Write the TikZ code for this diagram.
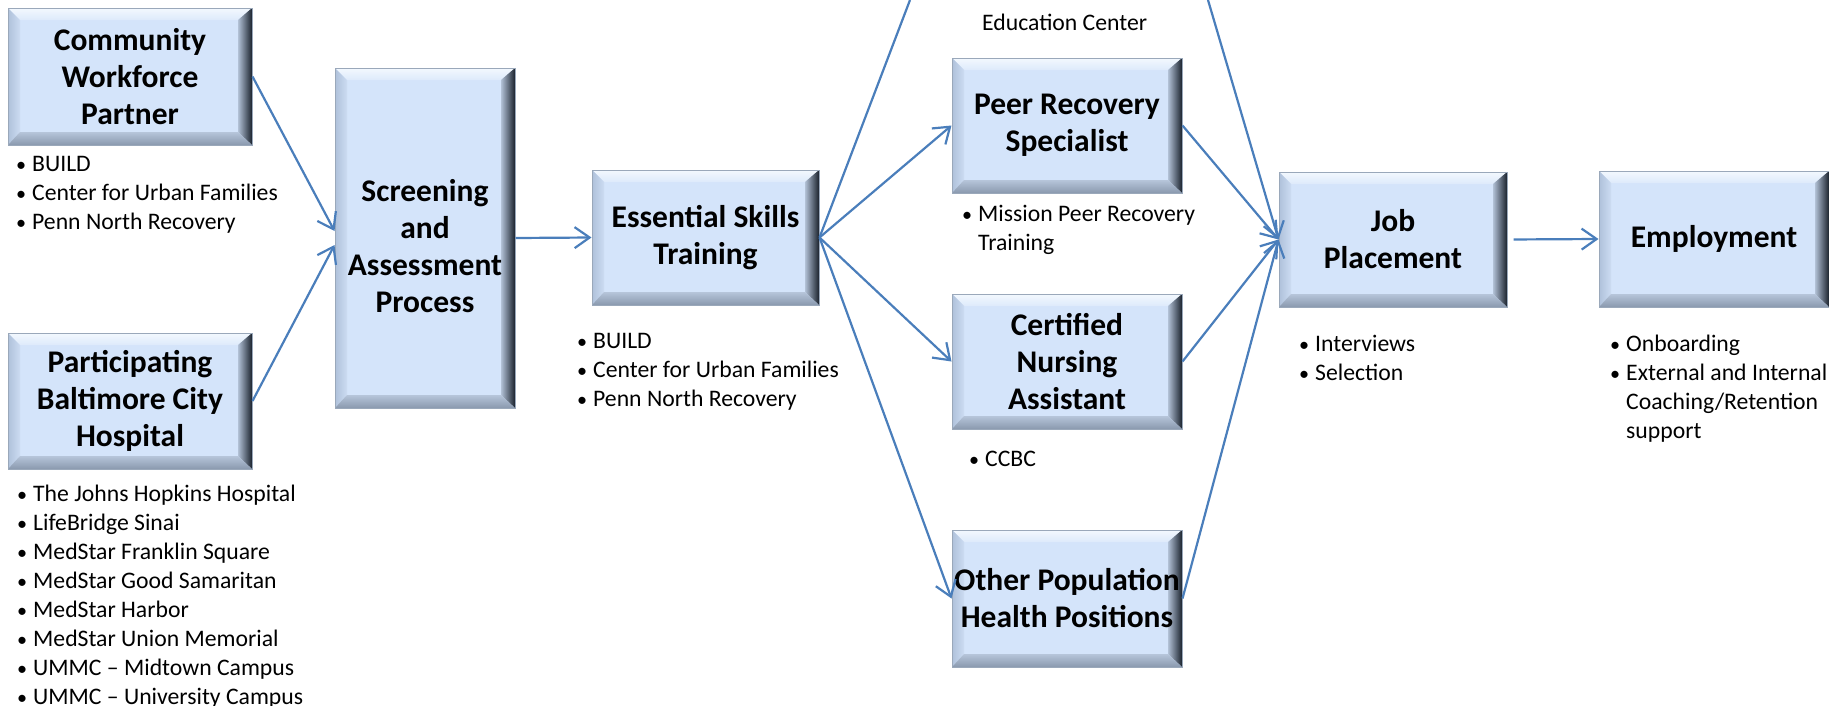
\documentclass[tikz,border=0pt]{standalone}
\usepackage{fontspec}
\setmainfont{Carlito}
\usetikzlibrary{arrows.meta}

\definecolor{faceblue}{HTML}{D4E4FA}
\definecolor{bevtop}{HTML}{F3F8FE}
\definecolor{bevtopin}{HTML}{DDEAFB}
\definecolor{bevleft}{HTML}{AFC1DA}
\definecolor{bevleftin}{HTML}{CCDCF2}
\definecolor{bevrightin}{HTML}{B2C1D6}
\definecolor{bevrightmid}{HTML}{76849A}
\definecolor{bevright}{HTML}{1A222D}
\definecolor{bevbot}{HTML}{8A99AE}
\definecolor{bevbotin}{HTML}{B6C5DA}
\definecolor{edgegray}{HTML}{9AA8BA}
\definecolor{flowblue}{HTML}{4A7EBB}

\newcommand{\bul}{\makebox[16pt][l]{\scalebox{0.85}{•}}}
\newcommand{\cont}{\hspace*{16pt}}
\newcommand{\blist}[1]{\begin{tabular}[t]{@{}l@{}}#1\end{tabular}}

\tikzset{
  bevel/.style={path picture={
    \coordinate (pnw) at (path picture bounding box.north west);
    \coordinate (pne) at (path picture bounding box.north east);
    \coordinate (psw) at (path picture bounding box.south west);
    \coordinate (pse) at (path picture bounding box.south east);
    \shade[top color=bevtop, bottom color=bevtopin]
      (pnw) -- (pne) -- ([shift={(-14pt,-12pt)}]pne) -- ([shift={(12pt,-12pt)}]pnw) -- cycle;
    \shade[left color=bevleft, right color=bevleftin]
      (pnw) -- ([shift={(12pt,-12pt)}]pnw) -- ([shift={(12pt,13pt)}]psw) -- (psw) -- cycle;
    \shade[left color=bevrightin, middle color=bevrightmid, right color=bevright]
      (pne) -- (pse) -- ([shift={(-14pt,13pt)}]pse) -- ([shift={(-14pt,-12pt)}]pne) -- cycle;
    \shade[top color=bevbotin, bottom color=bevbot]
      (psw) -- ([shift={(12pt,13pt)}]psw) -- ([shift={(-14pt,13pt)}]pse) -- (pse) -- cycle;
  }},
  stagebox/.style={rectangle, draw=edgegray, line width=1pt, fill=faceblue, bevel,
    align=center, inner sep=0pt, font=\fontsize{31.5}{37}\selectfont\bfseries},
  boxtext/.style={align=center, inner sep=0pt, font=\fontsize{31.5}{37}\selectfont\bfseries},
  bullets/.style={anchor=base west, inner sep=0pt, font=\fontsize{23.7}{29}\selectfont},
  flowline/.style={draw=flowblue, line width=2.2pt},
  flow/.style={flowline, -{Straight Barb[length=15pt,width=21pt]}},
}

\begin{document}
\begin{tikzpicture}[x=1pt, y=-1pt]
  \useasboundingbox (0,0) rectangle (1829,705);

  % sources
  \node[stagebox, minimum width=244pt, minimum height=137pt] (comm) at (130,76.5) {Community\\Workforce\\Partner};
  \node[bullets] (commlist) at (16,171) {\blist{\bul BUILD\\ \bul Center for Urban Families\\ \bul Penn North Recovery}};
  \node[stagebox, minimum width=244pt, minimum height=136pt] (hosp) at (130,401) {Participating\\Baltimore City\\Hospital};
  \node[bullets] (hosplist) at (17,501) {\blist{\bul The Johns Hopkins Hospital\\ \bul LifeBridge Sinai\\ \bul MedStar Franklin Square\\ \bul MedStar Good Samaritan\\ \bul MedStar Harbor\\ \bul MedStar Union Memorial\\ \bul UMMC -- Midtown Campus\\ \bul UMMC -- University Campus}};

  % screening and training
  \node[stagebox, minimum width=180pt, minimum height=340pt] (screen) at (425,238) {};
  \node[boxtext] (screentxt) at (425,246) {Screening\\and\\Assessment\\Process};
  \node[stagebox, minimum width=227pt, minimum height=135pt] (ess) at (705.5,237.5) {Essential Skills\\Training};
  \node[bullets] (esslist) at (577,348) {\blist{\bul BUILD\\ \bul Center for Urban Families\\ \bul Penn North Recovery}};

  % tracks
  \node[bullets] (edu) at (982,30) {Education Center};
  \node[stagebox, minimum width=230pt, minimum height=135pt] (peer) at (1067,125.5) {Peer Recovery\\Specialist};
  \node[bullets] (peerlist) at (962,221) {\blist{\bul Mission Peer Recovery\\ \cont Training}};
  \node[stagebox, minimum width=230pt, minimum height=135pt] (cna) at (1067,361.5) {Certified\\Nursing\\Assistant};
  \node[bullets] (cnalist) at (969,466) {\blist{\bul CCBC}};
  \node[stagebox, minimum width=230pt, minimum height=137pt] (other) at (1067,598.5) {Other Population\\Health Positions};

  % placement and employment
  \node[stagebox, minimum width=228pt, minimum height=135pt] (job) at (1393,239.5) {Job\\Placement};
  \node[bullets] (joblist) at (1299,351) {\blist{\bul Interviews\\ \bul Selection}};
  \node[stagebox, minimum width=230pt, minimum height=136pt] (emp) at (1714,239) {Employment};
  \node[bullets] (emplist) at (1610,351) {\blist{\bul Onboarding\\ \bul External and Internal\\ \cont Coaching/Retention\\ \cont support}};

  \coordinate (topin) at (910,0);
  \coordinate (topout) at (1208,0);

  \draw[flow] (comm.east) -- ([yshift=7pt]screen.west);
  \draw[flow] (hosp.east) -- ([yshift=-7pt]screen.west);
  \draw[flow] (screen.east) -- (ess.west);
  \draw[flowline] (ess.east) -- (topin);
  \draw[flow] (ess.east) -- (peer.west);
  \draw[flow] (ess.east) -- (cna.west);
  \draw[flow] (ess.east) -- (other.west);
  \draw[flow] (topout) -- (job.west);
  \draw[flow] (peer.east) -- (job.west);
  \draw[flow] (cna.east) -- (job.west);
  \draw[flow] (other.east) -- (job.west);
  \draw[flow, shorten <=6pt] (job.east) -- (emp.west);
\end{tikzpicture}
\end{document}
